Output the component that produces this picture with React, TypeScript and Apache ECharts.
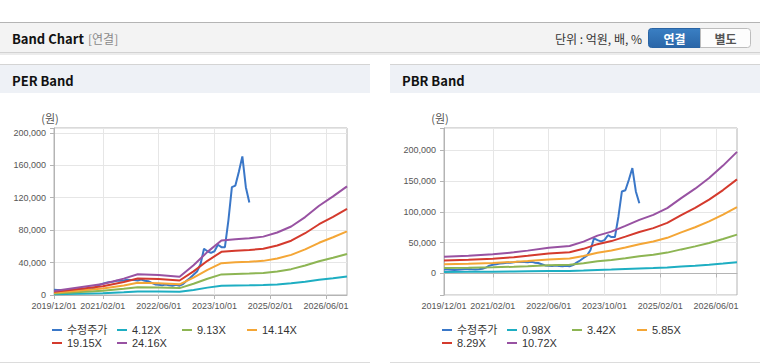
import React, { useEffect, useRef } from 'react';
import * as echarts from 'echarts';

// Monthly categories 2019/12 .. 2026/12
const months: string[] = (() => {
  const out: string[] = [];
  for (let i = 0; i <= 84; i++) {
    const m = 11 + i;
    const y = 2019 + Math.floor(m / 12);
    const mm = (m % 12) + 1;
    out.push(`${y}/${String(mm).padStart(2, '0')}/01`);
  }
  return out;
})();

const xLabelDates = ['2019/12/01', '2021/02/01', '2022/06/01', '2023/10/01', '2025/02/01', '2026/06/01'];

// Adjusted price (monthly, 2019/12 .. 2024/08)
const price = [
  6500, 6300, 6100, 5500, 5800, 6200, 6600, 6800, 6600, 6500, 6800, 7500,
  9500, 12500, 14000, 15000, 16000, 16500, 17500, 17500, 18000, 18800, 18500, 18500,
  18000, 19000, 17500, 17000, 15000, 13000, 12500, 12000, 12800, 12000, 11500, 12500,
  11500, 13500, 17500, 21000, 25000, 29000, 38000, 57000, 54000, 52000, 54000, 62000,
  59000, 59000, 92000, 133000, 135000, 152000, 171000, 133000, 114000,
];

// PER band points
const perDates = ['2019/12/01', '2021/02/01', '2021/08/01', '2021/12/01', '2022/06/01', '2022/12/01', '2023/04/01', '2023/08/01', '2023/12/01', '2024/04/01', '2024/08/01', '2024/12/01', '2025/04/01', '2025/08/01', '2025/12/01', '2026/04/01', '2026/08/01', '2026/12/01'];
const per412 = [800, 2300, 3400, 4400, 4200, 3900, 6300, 9100, 11500, 11800, 11900, 12300, 13100, 14400, 16400, 18800, 20800, 22900];
const per913 = [1900, 5100, 7600, 9700, 9300, 8500, 13900, 20100, 25400, 26000, 26500, 27200, 29100, 31900, 36300, 41600, 46000, 50600];
const per1414 = [2900, 8000, 11800, 15000, 14500, 13200, 21500, 31100, 39300, 40300, 41000, 42100, 45100, 49500, 56200, 64400, 71200, 78400];
const per1915 = [3900, 10800, 16000, 20300, 19600, 17900, 29100, 42200, 53300, 54600, 55500, 57100, 61100, 67000, 76200, 87300, 96500, 106200];
const per2416 = [4900, 13600, 20200, 25600, 24700, 22600, 36700, 53200, 67200, 68900, 70000, 72000, 77100, 84500, 96100, 110100, 121700, 134000];

// PBR band points
const pbrDates = ['2019/12/01', '2020/07/01', '2021/02/01', '2021/08/01', '2021/12/01', '2022/06/01', '2022/12/01', '2023/04/01', '2023/08/01', '2023/12/01', '2024/04/01', '2024/08/01', '2024/12/01', '2025/04/01', '2025/08/01', '2025/12/01', '2026/04/01', '2026/08/01', '2026/12/01'];
const pbr098 = [2500, 2600, 2800, 3100, 3400, 3800, 4100, 4700, 5600, 6200, 7100, 8000, 8700, 9700, 11200, 12600, 14200, 16000, 18000];
const pbr342 = [8700, 9200, 9900, 10900, 11800, 13300, 14200, 16500, 19600, 21700, 24600, 27800, 30300, 33800, 39000, 43900, 49400, 55800, 62900];
const pbr585 = [14800, 15700, 16900, 18700, 20200, 22800, 24300, 28200, 33500, 37100, 42100, 47500, 51900, 57800, 66700, 75000, 84500, 95500, 107700];
const pbr829 = [21000, 22300, 24000, 26400, 28600, 32300, 34500, 39900, 47500, 52500, 59700, 67300, 73500, 82000, 94600, 106300, 119800, 135300, 152600];
const pbr1072 = [27200, 28800, 31000, 34200, 37000, 41800, 44600, 51600, 61400, 67900, 77200, 87000, 95100, 106000, 122300, 137500, 154900, 175000, 197300];

const perNames = ['수정주가', '4.12X', '9.13X', '14.14X', '19.15X', '24.16X'];
const pbrNames = ['수정주가', '0.98X', '3.42X', '5.85X', '8.29X', '10.72X'];
const colors = ['#3a77c8', '#1eaec2', '#8db553', '#f4a636', '#d43a2d', '#9852a2'];

const FONT = '"Noto Sans CJK KR", "Noto Sans", sans-serif';
const AXFONT = '"Liberation Sans", "Noto Sans CJK KR", sans-serif';

const isLabel = (_i: number, v: string) => xLabelDates.includes(v);

export default function App() {
  const ref = useRef<HTMLDivElement>(null);
  useEffect(() => {
    if (!ref.current) return;
    const chart = echarts.init(ref.current, undefined, { renderer: 'svg' });

    const grids = [
      { left: 54, top: 128, width: 293, height: 167 },
      { left: 444, top: 128, width: 293, height: 167 },
    ];

    const xAxis = [0, 1].map((g) => ({
      gridIndex: g,
      type: 'category',
      data: months,
      boundaryGap: false,
      axisLine: { show: true, lineStyle: { color: '#b4b4b4' } },
      axisTick: { show: true, length: 4, interval: isLabel, lineStyle: { color: '#b4b4b4' } },
      axisLabel: { interval: isLabel, fontSize: 9, color: '#555', margin: 6, fontFamily: AXFONT },
      splitLine: { show: true, interval: isLabel, lineStyle: { color: '#e6e6e6' } },
    }));

    const yCommon = {
      type: 'value',
      axisLine: { show: true, lineStyle: { color: '#b4b4b4' } },
      axisTick: { show: true, length: 4, lineStyle: { color: '#b4b4b4' } },
      splitLine: { show: true, lineStyle: { color: '#e6e6e6' } },
    };
    const yAxis = [
      {
        ...yCommon,
        gridIndex: 0,
        min: 0,
        max: 206000,
        interval: 40000,
        axisLabel: {
          fontSize: 9, color: '#555', margin: 8, fontFamily: AXFONT,
          formatter: (v: number) => (v % 40000 === 0 ? v.toLocaleString('en-US') : ''),
        },
      },
      {
        ...yCommon,
        gridIndex: 1,
        min: -35000,
        max: 236000,
        splitNumber: 5,
        axisLabel: {
          fontSize: 9, color: '#555', margin: 8, fontFamily: AXFONT,
          formatter: (v: number) => (v % 50000 === 0 ? v.toLocaleString('en-US') : ''),
        },
      },
    ];

    const lineSeries = (name: string, data: any[], color: string, g: number) => ({
      type: 'line',
      name,
      xAxisIndex: g,
      yAxisIndex: g,
      data,
      symbol: 'none',
      showSymbol: false,
      lineStyle: { width: 2, color },
      itemStyle: { color },
      emphasis: { disabled: true },
    });

    const perBands = [per412, per913, per1414, per1915, per2416];
    const pbrBands = [pbr098, pbr342, pbr585, pbr829, pbr1072];

    const series: any[] = [];
    series.push(lineSeries(perNames[0], price, colors[0], 0));
    perBands.forEach((b, k) =>
      series.push(lineSeries(perNames[k + 1], perDates.map((d, j) => [d, b[j]]), colors[k + 1], 0))
    );
    series.push(lineSeries(pbrNames[0], price, colors[0], 1));
    pbrBands.forEach((b, k) =>
      series.push(lineSeries(pbrNames[k + 1], pbrDates.map((d, j) => [d, b[j]]), colors[k + 1], 1))
    );

    const legendCommon = {
      top: 323.5,
      width: 280,
      padding: 0,
      itemWidth: 10,
      itemHeight: 2,
      itemGap: 0,
      icon: 'rect',
      selectedMode: false,
      textStyle: { fontSize: 11, color: '#333', width: 50, lineHeight: 13, fontFamily: AXFONT },
    };

    const blueGrad = new echarts.graphic.LinearGradient(0, 0, 0, 1, [
      { offset: 0, color: '#3a7fc3' },
      { offset: 1, color: '#2a66a8' },
    ]);

    const graphic: any[] = [
      // header bar
      { type: 'rect', shape: { x: 0, y: 22, width: 760, height: 1 }, style: { fill: '#b4b4b4' }, silent: true },
      { type: 'rect', shape: { x: 0, y: 23, width: 760, height: 29 }, style: { fill: '#f3f3f3' }, silent: true },
      { type: 'rect', shape: { x: 0, y: 52, width: 760, height: 1 }, style: { fill: '#d2d2d2' }, silent: true },
      { type: 'rect', shape: { x: 0, y: 53, width: 760, height: 2 }, style: { fill: '#ececec' }, silent: true },
      { type: 'text', x: 12, y: 38, style: { text: 'Band Chart', font: `bold 13px ${FONT}`, fill: '#111', verticalAlign: 'middle' } },
      { type: 'text', x: 88, y: 38, style: { text: '[연결]', font: `12px ${FONT}`, fill: '#8a8a8a', verticalAlign: 'middle' } },
      { type: 'text', x: 642, y: 38, style: { text: '단위 : 억원, 배, %', font: `12px ${FONT}`, fill: '#333', align: 'right', verticalAlign: 'middle' } },
      { type: 'rect', shape: { x: 648.5, y: 28.5, width: 52, height: 19, r: [3, 0, 0, 3] }, style: { fill: blueGrad, stroke: '#2a64a4', lineWidth: 1 } },
      { type: 'text', x: 674.5, y: 38, style: { text: '연결', font: `bold 12px ${FONT}`, fill: '#fff', align: 'center', verticalAlign: 'middle' } },
      { type: 'rect', shape: { x: 700.5, y: 28.5, width: 50, height: 19, r: [0, 3, 3, 0] }, style: { fill: '#fdfdfd', stroke: '#bdbdbd', lineWidth: 1 } },
      { type: 'text', x: 725.5, y: 38, style: { text: '별도', font: `bold 12px ${FONT}`, fill: '#555', align: 'center', verticalAlign: 'middle' } },
      // PER panel title
      { type: 'rect', shape: { x: 0, y: 64, width: 370, height: 1 }, style: { fill: '#d4d4d4' } },
      { type: 'rect', shape: { x: 0, y: 65, width: 370, height: 28 }, style: { fill: '#eef1f6' } },
      { type: 'text', x: 12, y: 80, style: { text: 'PER Band', font: `bold 13px ${FONT}`, fill: '#111', verticalAlign: 'middle' } },
      { type: 'text', x: 50, y: 118, style: { text: '(원)', font: `11px ${FONT}`, fill: '#555', align: 'center', verticalAlign: 'middle' } },
      { type: 'rect', shape: { x: 0, y: 362, width: 370, height: 1 }, style: { fill: '#dcdcdc' } },
      // PBR panel title
      { type: 'rect', shape: { x: 390, y: 64, width: 370, height: 1 }, style: { fill: '#d4d4d4' } },
      { type: 'rect', shape: { x: 390, y: 65, width: 370, height: 28 }, style: { fill: '#eef1f6' } },
      { type: 'text', x: 402, y: 80, style: { text: 'PBR Band', font: `bold 13px ${FONT}`, fill: '#111', verticalAlign: 'middle' } },
      { type: 'text', x: 440, y: 118, style: { text: '(원)', font: `11px ${FONT}`, fill: '#555', align: 'center', verticalAlign: 'middle' } },
      { type: 'rect', shape: { x: 390, y: 362, width: 370, height: 1 }, style: { fill: '#dcdcdc' } },
    ];

    chart.setOption({
      animation: false,
      backgroundColor: '#ffffff',
      grid: grids.map((g) => ({ ...g, show: true, borderColor: '#b4b4b4', borderWidth: 1, containLabel: false })),
      xAxis,
      yAxis,
      legend: [
        { ...legendCommon, left: 52, data: perNames },
        { ...legendCommon, left: 442, data: pbrNames },
      ],
      graphic,
      series,
    } as any);

    return () => chart.dispose();
  }, []);

  return (
    <div
      ref={ref}
      style={{ position: 'absolute', left: 0, top: 0, width: 760, height: 364, background: '#fff' }}
    />
  );
}
